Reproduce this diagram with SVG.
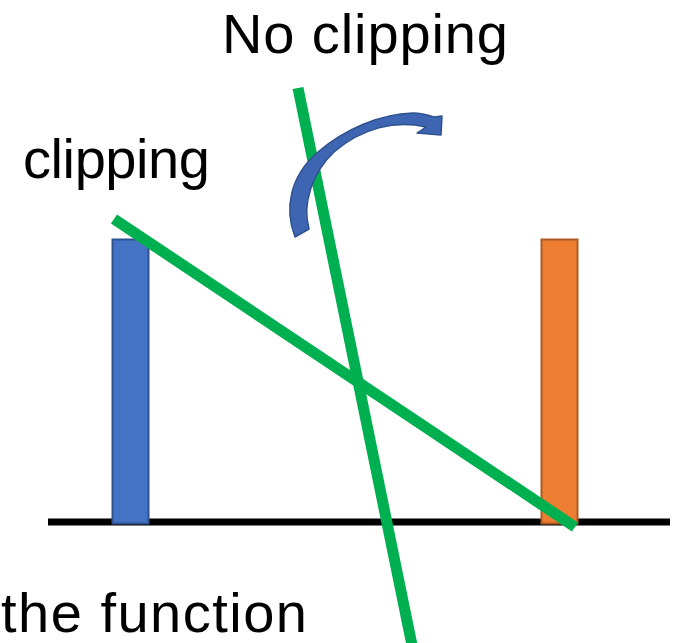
<svg xmlns="http://www.w3.org/2000/svg" width="677" height="643" viewBox="0 0 677 643">
<style>
.lbl{font-family:"Liberation Sans",Arial,sans-serif;font-size:56px;fill:#000}
.green{stroke:#00B050;stroke-width:11;fill:none}
</style>
<rect width="677" height="643" fill="#fff"/>
<g id="axis"><line x1="48" y1="522" x2="670" y2="522" stroke="#000" stroke-width="7"/></g>
<g id="bar-blue"><rect x="112.5" y="239.5" width="36" height="284" fill="#4472C4" stroke="#2F528F" stroke-width="2"/></g>
<g id="bar-orange"><rect x="541.5" y="239.5" width="36" height="284" fill="#ED7D31" stroke="#AE5A21" stroke-width="2"/></g>
<g id="connectors">
<line id="line-clipping" class="green" x1="114" y1="219" x2="575" y2="527"/>
<line id="line-noclipping" class="green" x1="298" y1="88" x2="413" y2="650"/>
</g>
<g id="arrow">
<path d="M295,237 C284,208 290,176 318,152 C345,129 380,114 413,113 C420,113 428,115 434,117 L442,116 L441,135 L417,133 L426,127 C395,120 362,128 334,152 C312,173 302,204 309,229 Z" fill="#3E65B2" stroke="#2F528F" stroke-width="1.5" stroke-linejoin="round"/>
</g>
<g id="texts">
<text class="lbl" x="222" y="53" textLength="286" lengthAdjust="spacing">No clipping</text>
<text class="lbl" x="23" y="178" textLength="187" lengthAdjust="spacing">clipping</text>
<text class="lbl" x="1" y="632" textLength="306" lengthAdjust="spacing">the function</text>
</g>
</svg>
